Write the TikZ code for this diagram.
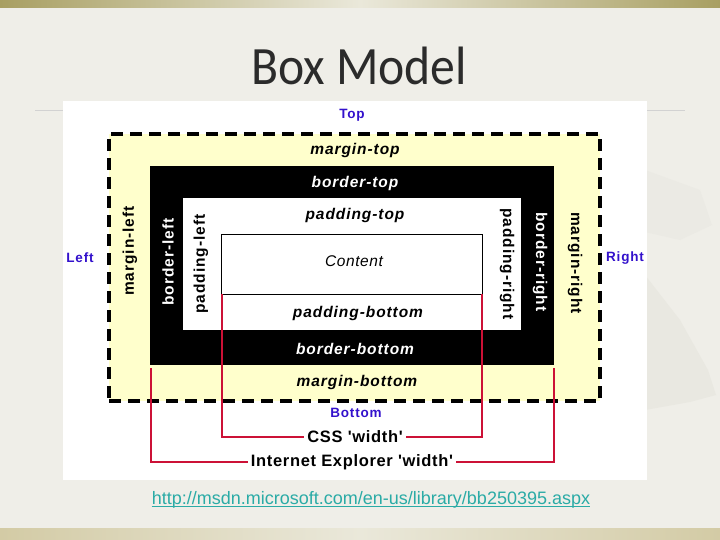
\documentclass[tikz,border=0pt]{standalone}
\usepackage{fontspec}
\usetikzlibrary{calc}
\setmainfont{Liberation Sans}
\newfontfamily\titlefont{Carlito}
\newfontfamily\lblfont[LetterSpace=6]{Liberation Sans}
\newfontfamily\wfont[LetterSpace=4]{Liberation Sans}
\definecolor{slidebg}{HTML}{EFEEE8}
\definecolor{bandolive}{HTML}{A89F62}
\definecolor{bandlight}{HTML}{EAE8DA}
\definecolor{bandtan}{HTML}{D3CBA5}
\definecolor{marginyellow}{HTML}{FFFFCC}
\definecolor{sideblue}{HTML}{3311CC}
\definecolor{iered}{HTML}{CC1136}
\definecolor{urlteal}{HTML}{2AABA6}
\definecolor{titlegray}{HTML}{2B2B2B}
\definecolor{fangray}{HTML}{E9E8E1}
\begin{document}
\begin{tikzpicture}[x=1pt,y=-1pt,
  lbl/.style={font=\lblfont\bfseries\itshape\fontsize{15.5}{17}\selectfont, inner sep=0pt},
  vlbl/.style={font=\lblfont\bfseries\fontsize{15.5}{17}\selectfont, inner sep=0pt},
  side/.style={font=\lblfont\bfseries\fontsize{13.5}{15}\selectfont, text=sideblue, inner sep=0pt},
  wlbl/.style={font=\wfont\bfseries\fontsize{16.5}{18}\selectfont, fill=white, inner sep=3pt},
  boxnode/.style={inner sep=0pt, anchor=north west},
  redline/.style={draw=iered, line width=2.6pt}]
\useasboundingbox (0,0) rectangle (720,540);
% slide background
\fill[slidebg] (0,0) rectangle (720,540);
\shade[left color=bandolive, right color=bandolive, middle color=bandlight] (0,0) rectangle (720,8);
\shade[left color=bandtan, right color=bandtan, middle color=bandlight] (0,528) rectangle (720,540);
\draw[gray!35, line width=1pt] (35,111) -- (685,111);
% faint fan decoration
\fill[fangray] (645,275) -- (680,320) -- (708,370) -- (716,395) -- (690,402) -- (645,410) -- cycle;
\fill[fangray!60!slidebg] (645,170) -- (700,190) -- (712,225) -- (680,240) -- (645,232) -- cycle;
% title
\node[font=\titlefont\fontsize{54}{60}\selectfont, text=titlegray, xscale=0.92] (title) at (359,66) {Box Model};
% picture area
\node[boxnode, fill=white, minimum width=584pt, minimum height=379pt] (photo) at (63,101) {};
% boxes
\node[boxnode, fill=marginyellow, draw=black, line width=4pt, dash pattern=on 12pt off 7pt,
      minimum width=491pt, minimum height=267pt] (margin) at (107,132) {};
\node[boxnode, fill=black, minimum width=404pt, minimum height=199pt] (border) at (150,166) {};
\node[boxnode, fill=white, minimum width=338pt, minimum height=132pt] (padding) at (183,198) {};
\node[boxnode, draw=black, line width=0.8pt, minimum width=261pt, minimum height=60pt] (content) at (221,234) {};
\node[font=\wfont\itshape\fontsize{15.5}{17}\selectfont, inner sep=0pt] (contentlbl) at (354,261) {Content};
% horizontal labels
\node[lbl] (mtop) at (355,150) {margin-top};
\node[lbl, text=white] (btop) at (355,183) {border-top};
\node[lbl] (ptop) at (355,215) {padding-top};
\node[lbl] (pbot) at (358,313) {padding-bottom};
\node[lbl, text=white] (bbot) at (355,349) {border-bottom};
\node[lbl] (mbot) at (357,382) {margin-bottom};
% vertical labels
\node[vlbl, rotate=90] (mleft) at (130,251) {margin-left};
\node[vlbl, rotate=90, text=white] (bleft) at (168,262) {border-left};
\node[vlbl, rotate=90] (pleft) at (201,264) {padding-left};
\node[vlbl, rotate=-90] (pright) at (507,264) {padding-right};
\node[vlbl, rotate=-90, text=white] (bright) at (540,262) {border-right};
\node[vlbl, rotate=-90] (mright) at (575,263) {margin-right};
% side labels
\node[side] (top) at (352,115) {Top};
\node[side] (bottom) at (356,413) {Bottom};
\node[side] (left) at (80,258) {Left};
\node[side] (right) at (625,258) {Right};
% width labels
\node[wlbl] (css) at (355,437) {CSS 'width'};
\node[wlbl] (ie) at (352,462) {Internet Explorer 'width'};
\coordinate (cssL) at (222,294);
\coordinate (cssR) at (482,294);
\coordinate (ieL) at (151,368);
\coordinate (ieR) at (554,368);
\draw[redline] (cssL) |- (css.west);
\draw[redline] (cssR) |- (css.east);
\draw[redline] (ieL) |- (ie.west);
\draw[redline] (ieR) |- (ie.east);
% url
\node[font=\fontsize{18}{20}\selectfont, text=urlteal, inner sep=0pt, anchor=base] (url) at (371,504) {http://msdn.microsoft.com/en-us/library/bb250395.aspx};
\draw[urlteal, line width=1pt] ($(url.base west)+(0,2)$) -- ($(url.base east)+(0,2)$);
\end{tikzpicture}
\end{document}
